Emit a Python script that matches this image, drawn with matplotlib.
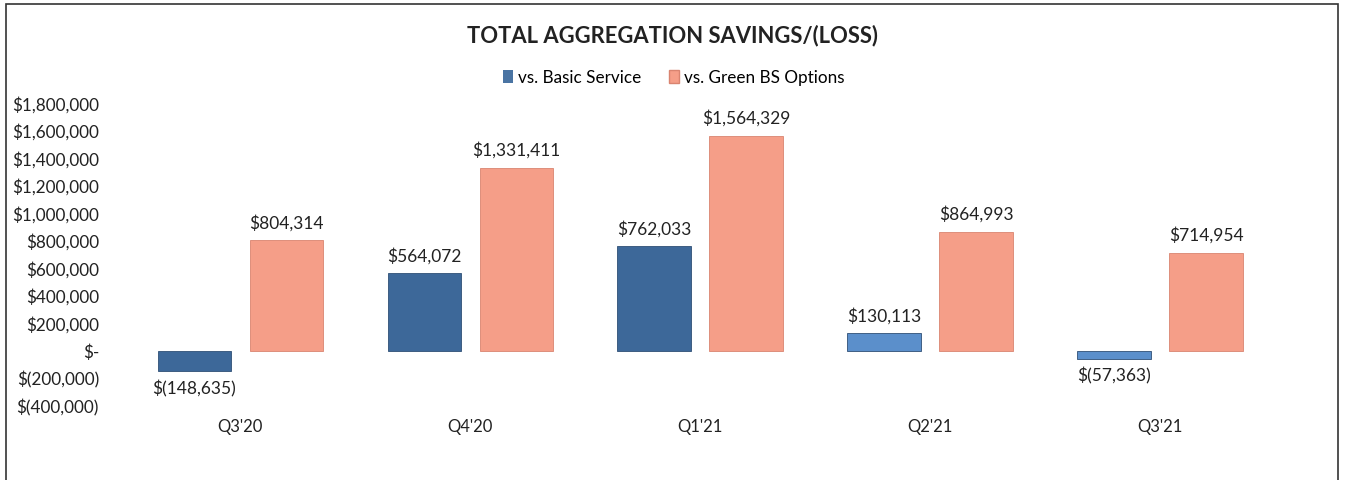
import matplotlib
matplotlib.use("Agg")
import matplotlib.pyplot as plt
import numpy as np
from matplotlib.patches import Rectangle, Patch

categories = ["Q3'20", "Q4'20", "Q1'21", "Q2'21", "Q3'21"]
basic = [-148635, 564072, 762033, 130113, -57363]
green = [804314, 1331411, 1564329, 864993, 714954]
series_names = ["vs. Basic Service", "vs. Green BS Options"]
yticks = list(range(-400000, 1800001, 200000))

plt.rcParams['font.family'] = ['Lato', 'DejaVu Sans']

def money(v):
    if v == 0:
        return "$-"
    if v < 0:
        return "$({:,})".format(-v)
    return "${:,}".format(v)

fig = plt.figure(figsize=(13.48, 4.8), dpi=100)
ax = fig.add_axes([0.093, 0.154, 0.853, 0.631])

x = np.arange(len(categories))
w = 0.32
gap = 0.08
blue_colors = ["#3D6899", "#3D6899", "#3D6899", "#5B8FCB", "#5B8FCB"]
pink = "#F59E88"

ax.bar(x - (w + gap) / 2, basic, w, color=blue_colors, edgecolor="#2f4f75", linewidth=0.6)
ax.bar(x + (w + gap) / 2, green, w, color=pink, edgecolor="#d98470", linewidth=0.6)

for xi, v in zip(x - (w + gap) / 2, basic):
    if v >= 0:
        ax.text(xi, v + 65000, money(v), ha="center", va="bottom", fontsize=12.5, color="#222222")
    else:
        ax.text(xi, v - 65000, money(v), ha="center", va="top", fontsize=12.5, color="#222222")
for xi, v in zip(x + (w + gap) / 2, green):
    ax.text(xi, v + 65000, money(v), ha="center", va="bottom", fontsize=12.5, color="#222222")

ax.set_xlim(-0.5, len(categories) - 0.5)
ax.set_ylim(-400000, 1800000)
ax.set_yticks(yticks)
ax.set_yticklabels([money(t) for t in yticks], fontsize=12.3, color="#222222")
ax.set_xticks(x)
ax.set_xticklabels(categories, fontsize=12, color="#222222")
ax.tick_params(axis="y", length=0, pad=19)
ax.tick_params(axis="x", length=0, pad=9)
for s in ax.spines.values():
    s.set_visible(False)

fig.text(0.499, 0.925, "TOTAL AGGREGATION SAVINGS/(LOSS)", ha="center", va="center",
         fontsize=15.8, fontweight="bold", color="#222222")

handles = [Patch(facecolor="#4a74a3"), Patch(facecolor=pink, edgecolor="#d98470")]
fig.legend(handles, series_names, loc="center", bbox_to_anchor=(0.5, 0.838), ncol=2,
           frameon=False, fontsize=12.3, handlelength=0.6, handleheight=0.8,
           handletextpad=0.3, columnspacing=1.6)

fig.patches.append(Rectangle((6 / 1348, -0.02), (1338 - 6) / 1348, 1.02 - 4 / 480,
                             transform=fig.transFigure, fill=False, edgecolor="#333333",
                             linewidth=1.2))

fig.savefig("out.png", dpi=100, facecolor="white")
